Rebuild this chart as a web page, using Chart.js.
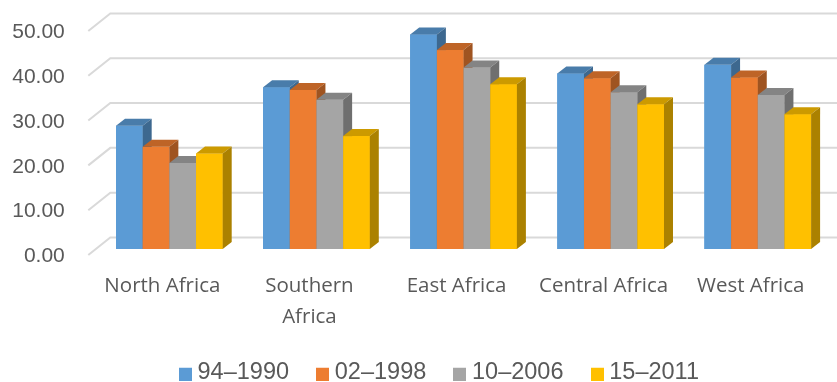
<!DOCTYPE html>
<html><head><meta charset="utf-8">
<script src="https://cdn.jsdelivr.net/npm/chart.js@4.4.1/dist/chart.umd.min.js"></script>
<style>html,body{margin:0;padding:0;background:#fff;overflow:hidden;} canvas{display:block;}</style>
</head><body>
<canvas id="c" width="837" height="382"></canvas>
<script>
// ---- data ----
const categories = ['North Africa', ['Southern', 'Africa'], 'East Africa', 'Central Africa', 'West Africa'];
const seriesNames = ['94–1990', '02–1998', '10–2006', '15–2011'];
const s1990 = [27.5, 36.1, 47.9, 39.2, 41.1];
const s1998 = [22.8, 35.5, 44.4, 38.1, 38.3];
const s2006 = [19.2, 33.3, 40.5, 35.0, 34.4];
const s2011 = [21.3, 25.2, 36.8, 32.3, 30.1];
const yTicks = [0, 10, 20, 30, 40, 50];

// ---- style ----
const colors = ['#5B9BD5', '#ED7D31', '#A5A5A5', '#FFC000'];
const DX = 9, DY = 7;               // bar depth
const WALL = 22, SLOPE = 17.5 / 22; // floor depth
const PLANE = 7.5;                  // bar plane depth from front
const LEG_X = 184.8, LEG_Y = 360.5;

function shade(hex, f) {
  const n = parseInt(hex.slice(1), 16);
  const r = Math.round(((n >> 16) & 255) * f), g = Math.round(((n >> 8) & 255) * f), b = Math.round((n & 255) * f);
  return `rgb(${r},${g},${b})`;
}
function swatch(color) {
  const cv = document.createElement('canvas');
  cv.width = 13; cv.height = 17;
  const g = cv.getContext('2d');
  g.fillStyle = color; g.fillRect(0, 4, 13, 13);
  return cv;
}
const swatches = colors.map(swatch);

const grid3d = {
  id: 'grid3d',
  beforeDatasetsDraw(chart) {
    const { ctx, chartArea, scales: { y } } = chart;
    ctx.save();
    ctx.strokeStyle = '#D9D9D9';
    ctx.lineWidth = 2;
    const fx = chartArea.left - PLANE, bx = chartArea.left + (WALL - PLANE);
    y.ticks.forEach(t => {
      const yp = y.getPixelForValue(t.value);
      const fy = yp + PLANE * SLOPE, by = yp - (WALL - PLANE) * SLOPE;
      ctx.beginPath();
      ctx.moveTo(fx, fy); ctx.lineTo(bx, by); ctx.lineTo(chart.width + 5, by);
      ctx.stroke();
    });
    ctx.restore();
  }
};

const bars3d = {
  id: 'bars3d',
  afterDatasetsDraw(chart) {
    const ctx = chart.ctx;
    const n = chart.data.labels.length;
    ctx.save();
    for (let j = 0; j < n; j++) {
      for (let i = 0; i < chart.data.datasets.length; i++) {
        const meta = chart.getDatasetMeta(i);
        if (meta.hidden || !meta.data[j]) continue;
        const { x, y, base, width } = meta.data[j].getProps(['x', 'y', 'base', 'width'], true);
        const l = x - width / 2, r = x + width / 2;
        const c = colors[i];
        ctx.fillStyle = c;
        ctx.fillRect(l, y, width, base - y);
        ctx.fillStyle = shade(c, 0.8);
        ctx.beginPath();
        ctx.moveTo(l, y); ctx.lineTo(l + DX, y - DY); ctx.lineTo(r + DX, y - DY); ctx.lineTo(r, y);
        ctx.closePath(); ctx.fill();
        ctx.fillStyle = shade(c, 0.67);
        ctx.beginPath();
        ctx.moveTo(r, y); ctx.lineTo(r + DX, y - DY); ctx.lineTo(r + DX, base - DY); ctx.lineTo(r, base);
        ctx.closePath(); ctx.fill();
      }
    }
    ctx.restore();
  }
};

const legendPos = {
  id: 'legendPos',
  afterLayout(chart) {
    const lg = chart.legend;
    if (lg && lg.lineWidths) {
      const pad = lg.options.labels.padding;
      const curX = (lg.left + pad + lg.right - lg.lineWidths[0]) / 2;
      const dx = LEG_X - curX;
      lg.left += dx; lg.right += dx;
      const dy = LEG_Y - (lg.top + pad);
      lg.top += dy; lg.bottom += dy;
    }
    // let the category labels use the space down to the legend
    chart.scales.x.bottom = chart.height;
  }
};

const seriesData = [s1990, s1998, s2006, s2011];

new Chart(document.getElementById('c'), {
  type: 'bar',
  data: {
    labels: categories,
    datasets: seriesNames.map((name, i) => ({
      label: name,
      data: seriesData[i],
      backgroundColor: colors[i],
      borderWidth: 0,
      categoryPercentage: 0.7253,
      barPercentage: 1.0
    }))
  },
  plugins: [grid3d, bars3d, legendPos],
  options: {
    responsive: false,
    devicePixelRatio: 1,
    animation: false,
    layout: { padding: { left: 0, right: 5.7, top: 25, bottom: 0 } },
    plugins: {
      tooltip: { enabled: false },
      legend: {
        position: 'bottom',
        labels: {
          usePointStyle: true,
          pointStyleWidth: 1,
          padding: 33,
          color: '#595959',
          font: { family: 'Liberation Sans, Arial, sans-serif', size: 23.5 },
          generateLabels(chart) {
            const items = Chart.defaults.plugins.legend.labels.generateLabels(chart);
            items.forEach(it => { it.pointStyle = swatches[it.datasetIndex]; });
            return items;
          }
        }
      }
    },
    scales: {
      x: {
        grid: { display: false, drawTicks: false },
        border: { display: false },
        ticks: {
          color: '#595959',
          font: { family: 'Open Sans, sans-serif', size: 20.5, lineHeight: 31 / 20.5 },
          padding: 22,
          labelOffset: -7,
          maxRotation: 0,
          autoSkip: false
        },
        afterFit(s) { s.height = 66.5; s.paddingLeft = 0; s.paddingRight = 0; s.paddingTop = 0; s.paddingBottom = 0; }
      },
      y: {
        min: 0, max: 50,
        afterBuildTicks(s) { s.ticks = yTicks.map(v => ({ value: v })); },
        grid: { display: false, drawTicks: false },
        border: { display: false },
        ticks: {
          color: '#595959',
          font: { family: 'Liberation Sans, Arial, sans-serif', size: 21 },
          padding: 31,
          labelOffset: 7.5,
          callback: v => Number(v).toFixed(2)
        },
        afterFit(s) { s.width = 95.8; s.paddingLeft = 0; s.paddingRight = 0; s.paddingTop = 0; s.paddingBottom = 0; }
      }
    }
  }
});
</script>
</body></html>
